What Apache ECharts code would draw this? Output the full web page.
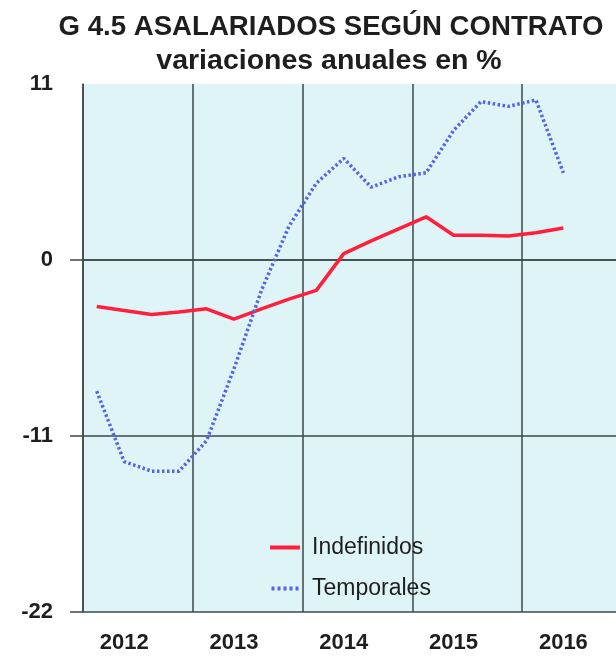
<!DOCTYPE html>
<html>
<head>
<meta charset="utf-8">
<script src="https://cdn.jsdelivr.net/npm/echarts@6/dist/echarts.min.js"></script>
<style>
  html, body { margin: 0; padding: 0; background: #ffffff; }
  #chart { width: 616px; height: 660px; }
</style>
</head>
<body>
<div id="chart"></div>
<script>
// Quarterly periods, 2012 to 2016
const quarters = [
  '2012-T1','2012-T2','2012-T3','2012-T4',
  '2013-T1','2013-T2','2013-T3','2013-T4',
  '2014-T1','2014-T2','2014-T3','2014-T4',
  '2015-T1','2015-T2','2015-T3','2015-T4',
  '2016-T1','2016-T2','2016-T3','2016-T4'
];
const yearLabels = ['2012', '2013', '2014', '2015', '2016'];
const yTicks = [-22, -11, 0, 11];

// Annual change, % (permanent and temporary contracts)
const indefinidos = [-2.9, -3.15, -3.4, -3.25, -3.05, -3.7, -3.05, -2.45, -1.9, 0.4,
                     1.2, 1.95, 2.7, 1.55, 1.55, 1.5, 1.7, 2.0, null, null];
const temporales  = [-8.2, -12.6, -13.2, -13.2, -11.3, -6.8, -1.9, 2.1, 4.8, 6.35,
                     4.55, 5.2, 5.45, 8.1, 9.9, 9.6, 10.0, 5.45, null, null];

const FONT = '"Liberation Sans", Arial, Helvetica, sans-serif';
const GRID_COLOR = '#3b4a48';
const RED = '#ff1f3d';
const BLUE = '#5563e6';

// legend keys: a solid bar and a row of square dots
const ICON_SOLID = 'path://M0,0H30V4H0Z';
const ICON_DOTS = 'path://M0,0H3V4H0Z M6,0H9V4H6Z M12,0H15V4H12Z M18,0H21V4H18Z M24,0H27V4H24Z';

const chart = echarts.init(document.getElementById('chart'), null, { renderer: 'canvas' });

chart.setOption({
  animation: false,
  backgroundColor: '#ffffff',
  title: [
    {
      text: 'G 4.5 ASALARIADOS SEGÚN CONTRATO',
      left: 326, top: 8, textAlign: 'center',
      textStyle: { fontFamily: FONT, fontSize: 27.6, fontWeight: 'bold', color: '#1e1e1e' }
    },
    {
      text: 'variaciones anuales en %',
      left: 324, top: 42, textAlign: 'center',
      textStyle: { fontFamily: FONT, fontSize: 28.5, fontWeight: 'bold', color: '#1e1e1e' }
    }
  ],
  legend: {
    orient: 'vertical',
    left: 265, top: 531,
    itemWidth: 30, itemHeight: 4, itemGap: 18,
    data: [
      { name: 'Indefinidos', icon: ICON_SOLID, itemStyle: { color: RED } },
      { name: 'Temporales', icon: ICON_DOTS, itemStyle: { color: BLUE } }
    ],
    textStyle: { fontFamily: FONT, fontSize: 23, color: '#1e1e1e', padding: [0, 0, 0, 7] }
  },
  grid: {
    left: 83, width: 549, top: 84, bottom: 48,
    show: true, backgroundColor: '#def4f6', borderWidth: 0,
    containLabel: false,
    outerBoundsMode: 'none'
  },
  xAxis: {
    type: 'category',
    data: quarters,
    boundaryGap: true,
    axisLine: { show: true, lineStyle: { color: GRID_COLOR, width: 1.5 } },
    axisTick: { show: false, interval: (i) => i % 4 === 0 },
    axisLabel: {
      interval: (i) => i % 4 === 1,
      formatter: (v) => yearLabels[Math.floor(quarters.indexOf(v) / 4)],
      fontFamily: FONT, fontSize: 22, fontWeight: 'bold', color: '#1e1e1e',
      margin: 20
    },
    splitLine: {
      show: true,
      interval: (i) => i % 4 === 0,
      lineStyle: { color: GRID_COLOR, width: 1.5 }
    }
  },
  yAxis: {
    type: 'value',
    min: -22, max: 11, interval: 11,
    axisLine: { show: true, lineStyle: { color: GRID_COLOR, width: 1.5 } },
    axisTick: {
      show: true, length: 13, customValues: [-22, -11, 0],
      lineStyle: { color: GRID_COLOR, width: 1.5 }
    },
    axisLabel: {
      customValues: yTicks,
      fontFamily: FONT, fontSize: 22, fontWeight: 'bold', color: '#1e1e1e',
      margin: 30
    },
    splitLine: {
      show: true,
      lineStyle: { color: [GRID_COLOR, GRID_COLOR, GRID_COLOR, '#cfdcdc'], width: 1.5 }
    }
  },
  series: [
    {
      name: 'Indefinidos',
      type: 'line',
      data: indefinidos,
      symbol: 'none',
      connectNulls: false,
      color: RED,
      lineStyle: { color: RED, width: 3.5 },
      z: 3
    },
    {
      name: 'Temporales',
      type: 'line',
      data: temporales,
      symbol: 'none',
      connectNulls: false,
      color: BLUE,
      lineStyle: { color: BLUE, width: 3.5, type: [2.5, 2.5] },
      z: 4
    }
  ]
});
</script>
</body>
</html>
